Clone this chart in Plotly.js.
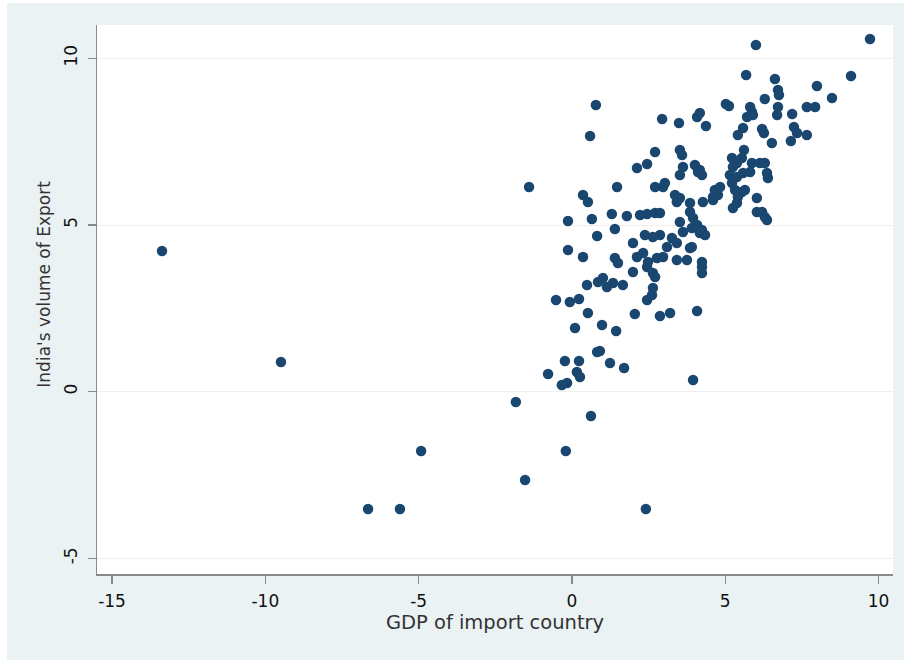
<!DOCTYPE html>
<html>
<head>
<meta charset="utf-8">
<script src="https://cdn.plot.ly/plotly-3.0.1.min.js"></script>
<style>
  html, body { margin: 0; padding: 0; background: #ffffff; width: 904px; height: 660px; overflow: hidden; }
  #chart { position: absolute; left: 7px; top: 3px; width: 897px; height: 657px; }
</style>
</head>
<body>
<div id="chart"></div>
<script>
// GDP of import country (x) and India's volume of Export (y)
const gdpImport = [
  -13.37, -9.49, -4.92, -6.65, -5.61, 2.41, -1.53, -1.83, -0.20, -1.40, 0.62, 3.95,
  -0.78, -0.23, -0.33, -0.16, 0.23, 0.16, 0.26, 0.82, 0.91, 1.24, 1.70, 0.10, 0.98, 1.44,
  0.52, 2.05, 2.87, 3.20, 4.08, -0.52, -0.07, 0.23, 2.45, 2.61, 2.64,
  0.49, 0.85, 1.01, 1.14, 1.34, 1.66, -0.13, 0.36, 0.82, 1.40, 1.40, 1.50, 1.99, 1.99,
  2.45, 2.64, 2.71, 2.12, 2.32, 2.48, 2.77, 2.97, 2.38, 2.64, 2.87, 3.26, 3.42, 3.10,
  3.42, 3.75, 3.91, 4.17, 4.34, 3.91, 4.24, 4.24, 4.24, 3.85, 3.62,
  -0.13, 0.65, 1.30, 1.79, 2.22, 2.45, 2.71, 2.87, 3.52, 3.85, 3.95, 4.08, 4.24,
  3.36, 3.42, 3.52, 3.85, 4.27, 4.60, 4.76, 4.83, 3.03, 2.97, 2.71, 1.47, 0.36, 0.52,
  2.12, 2.45, 2.71, 3.52, 3.59, 3.62, 3.52, 4.01, 4.17, 4.24, 0.59, 0.78,
  2.94, 3.49, 4.08, 4.17, 4.37, 5.02, 5.12, 5.68, 6.00, 9.72, 9.10, 6.62, 6.72, 6.75,
  7.99, 8.48, 7.66, 7.93, 6.29, 5.81, 5.87, 5.71, 5.90, 6.72, 6.69, 7.18,
  5.58, 5.41, 6.20, 6.26, 7.24, 7.34, 7.66, 7.14, 6.52, 5.61, 5.22, 5.38, 5.25, 5.54,
  5.87, 6.13, 6.29, 6.36, 6.39, 5.15, 5.38, 5.58, 5.81, 5.32, 5.41, 5.38, 5.25, 5.54,
  5.64, 6.03, 6.03, 6.20, 6.29, 6.36, 4.66, 4.60, 5.22, 4.11
];
const indiaExport = [
  4.22, 0.89, -1.78, -3.52, -3.52, -3.52, -2.65, -0.31, -1.78, 6.14, -0.73, 0.35,
  0.53, 0.92, 0.20, 0.26, 0.92, 0.59, 0.44, 1.19, 1.22, 0.86, 0.71, 1.91, 2.00, 1.82,
  2.36, 2.33, 2.27, 2.36, 2.42, 2.75, 2.69, 2.78, 2.75, 2.90, 3.11,
  3.20, 3.29, 3.41, 3.14, 3.26, 3.20, 4.25, 4.04, 4.67, 4.88, 4.01, 3.86, 4.46, 3.59,
  3.74, 3.56, 3.44, 4.04, 4.16, 3.89, 4.01, 4.04, 4.70, 4.64, 4.70, 4.61, 4.46, 4.34,
  3.95, 3.95, 4.91, 4.76, 4.70, 4.34, 3.89, 3.74, 3.56, 4.31, 4.79,
  5.12, 5.18, 5.33, 5.27, 5.30, 5.33, 5.36, 5.36, 5.09, 5.39, 5.21, 5.00, 4.85,
  5.90, 5.69, 5.81, 5.66, 5.69, 5.75, 5.90, 6.14, 6.26, 6.14, 6.14, 6.14, 5.90, 5.69,
  6.71, 6.83, 7.19, 7.25, 7.10, 6.74, 6.50, 6.80, 6.65, 6.50, 7.67, 8.60,
  8.18, 8.06, 8.24, 8.36, 7.97, 8.63, 8.57, 9.50, 10.40, 10.58, 9.47, 9.38, 9.05, 8.90,
  9.17, 8.81, 8.54, 8.54, 8.78, 8.54, 8.39, 8.24, 8.30, 8.54, 8.30, 8.33,
  7.91, 7.70, 7.88, 7.76, 7.94, 7.76, 7.70, 7.52, 7.46, 7.25, 7.01, 6.86, 6.74, 7.01,
  6.86, 6.86, 6.86, 6.56, 6.41, 6.50, 6.44, 6.56, 6.59, 6.05, 5.84, 5.66, 5.51, 5.99,
  6.05, 5.81, 5.39, 5.39, 5.24, 5.15, 6.05, 5.84, 6.26, 6.59
];
const xTickVals = [-15, -10, -5, 0, 5, 10];
const xTickText = ["-15", "-10", "-5", "0", "5", "10"];
const yTickVals = [-5, 0, 5, 10];
const yTickText = ["-5", "0", "5", "10"];
const xTitle = "GDP of import country";
const yTitle = "India's volume of Export";

const trace = {
  type: "scatter",
  mode: "markers",
  x: gdpImport,
  y: indiaExport,
  marker: { color: "#1a476f", size: 10.5, line: { width: 0 } },
  hoverinfo: "x+y"
};

const axisLine = "#8a8a8a";
const fontFam = "DejaVu Sans, Verdana, sans-serif";
const layout = {
  width: 897,
  height: 657,
  paper_bgcolor: "#eaf2f3",
  plot_bgcolor: "#ffffff",
  margin: { l: 90, r: 11, t: 22, b: 86, pad: 0 },
  showlegend: false,
  font: { family: fontFam, color: "#111111" },
  xaxis: {
    range: [-15.49, 10.47],
    tickmode: "array",
    tickvals: xTickVals,
    ticktext: xTickText,
    ticks: "outside",
    ticklen: 8,
    tickwidth: 1.5,
    tickcolor: axisLine,
    ticklabelstandoff: 3,
    showline: true,
    linecolor: axisLine,
    linewidth: 1.5,
    showgrid: false,
    zeroline: false,
    tickfont: { family: fontFam, size: 17, color: "#111111" },
    title: { text: xTitle, font: { family: fontFam, size: 19.5, color: "#333333" }, standoff: 0 }
  },
  yaxis: {
    range: [-5.47, 11.0],
    tickmode: "array",
    tickvals: yTickVals,
    ticktext: yTickText,
    tickangle: -90,
    ticks: "outside",
    ticklen: 8,
    tickwidth: 1.5,
    tickcolor: axisLine,
    ticklabelstandoff: 4,
    showline: true,
    linecolor: axisLine,
    linewidth: 1.5,
    showgrid: true,
    gridcolor: "#f1efed",
    gridwidth: 1,
    zeroline: false,
    tickfont: { family: fontFam, size: 17, color: "#111111" }
  },
  annotations: [{
    text: yTitle,
    xref: "paper", yref: "paper",
    x: 0, y: 0.527,
    xanchor: "center", yanchor: "middle",
    xshift: -53,
    textangle: -90,
    showarrow: false,
    font: { family: fontFam, size: 17, color: "#333333" }
  }]
};

Plotly.newPlot("chart", [trace], layout, { displayModeBar: false, staticPlot: true });
</script>
</body>
</html>
